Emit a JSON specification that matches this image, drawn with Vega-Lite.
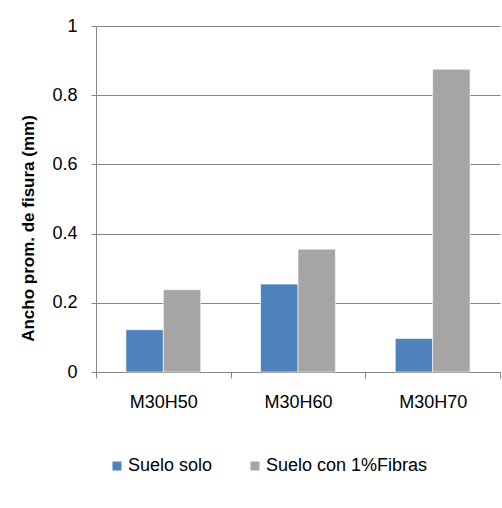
{
  "$schema": "https://vega.github.io/schema/vega-lite/v6.json",
  "autosize": {"type": "none"},
  "padding": {"left": 96, "top": 26, "right": 2, "bottom": 136},
  "width": 404,
  "height": 346,
  "background": "white",
  "config": {
    "font": "Liberation Sans",
    "view": {"stroke": null},
    "axis": {
      "labelFont": "Liberation Sans",
      "labelFontSize": 18,
      "labelColor": "#000000",
      "domainColor": "#868686",
      "tickColor": "#868686",
      "gridColor": "#868686",
      "gridWidth": 1,
      "domainWidth": 1,
      "tickWidth": 1
    },
    "legend": {
      "labelFont": "Liberation Sans",
      "labelFontSize": 18,
      "labelColor": "#000000"
    }
  },
  "data": {
    "values": [
      {"mezcla": "M30H50", "serie": "Suelo solo", "ancho": 0.122},
      {"mezcla": "M30H50", "serie": "Suelo con 1%Fibras", "ancho": 0.238},
      {"mezcla": "M30H60", "serie": "Suelo solo", "ancho": 0.254},
      {"mezcla": "M30H60", "serie": "Suelo con 1%Fibras", "ancho": 0.355},
      {"mezcla": "M30H70", "serie": "Suelo solo", "ancho": 0.097},
      {"mezcla": "M30H70", "serie": "Suelo con 1%Fibras", "ancho": 0.875}
    ]
  },
  "mark": {"type": "bar", "stroke": "#ffffff", "strokeOpacity": 0.6, "strokeWidth": 1},
  "encoding": {
    "x": {
      "field": "mezcla",
      "type": "nominal",
      "scale": {"paddingInner": 0, "paddingOuter": 0},
      "axis": {
        "title": null,
        "labelAngle": 0,
        "tickBand": "extent",
        "tickSize": 6,
        "labelPadding": 15,
        "grid": false
      }
    },
    "xOffset": {
      "field": "serie",
      "type": "nominal",
      "sort": ["Suelo solo", "Suelo con 1%Fibras"],
      "scale": {"paddingInner": 0, "paddingOuter": 0.8}
    },
    "y": {
      "field": "ancho",
      "type": "quantitative",
      "scale": {"domain": [0, 1], "nice": false},
      "axis": {
        "title": "Ancho prom.  de fisura (mm)",
        "titleFont": "Liberation Sans",
        "titleFontSize": 17,
        "titleFontWeight": "bold",
        "titleColor": "#000000",
        "titleAngle": -90,
        "titleX": -68,
        "titleY": 202,
        "titleAlign": "center",
        "titleBaseline": "middle",
        "values": [0, 0.2, 0.4, 0.6, 0.8, 1],
        "format": ".1~f",
        "tickSize": 5,
        "labelPadding": 14,
        "grid": true
      }
    },
    "color": {
      "field": "serie",
      "type": "nominal",
      "sort": ["Suelo solo", "Suelo con 1%Fibras"],
      "scale": {"domain": ["Suelo solo", "Suelo con 1%Fibras"], "range": ["#4F81BD", "#A5A5A5"]},
      "legend": {
        "title": null,
        "orient": "none",
        "direction": "horizontal",
        "legendX": 12,
        "legendY": 431,
        "padding": 0,
        "symbolType": "square",
        "symbolSize": 81,
        "symbolStrokeWidth": 0,
        "labelOffset": 2,
        "labelLimit": 300,
        "columnPadding": 33
      }
    }
  }
}
